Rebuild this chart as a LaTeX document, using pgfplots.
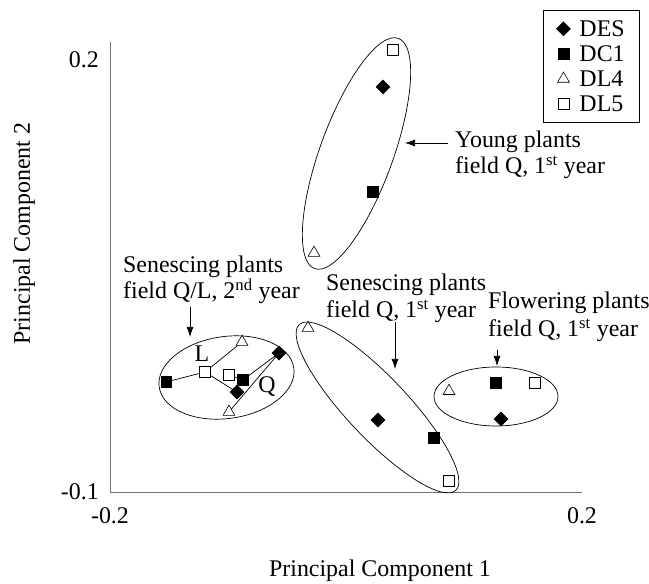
\documentclass[border=0pt]{standalone}
\usepackage{fontspec}
\setmainfont{Liberation Serif}
\usepackage{pgfplots}
\pgfplotsset{compat=1.18}
\usetikzlibrary{shapes.geometric,arrows.meta}
\begin{document}
\fontsize{24}{27}\selectfont
\begin{tikzpicture}
\path[use as bounding box] (0,0) rectangle (649bp,584bp);
\begin{axis}[
  at={(110bp,92bp)}, anchor=south west,
  scale only axis, width=472bp, height=450bp,
  xmin=-0.2, xmax=0.2, ymin=-0.1, ymax=0.2125,
  axis x line=bottom, axis y line=left,
  axis line style={-, black!55, line width=0.8bp},
  xtick={-0.2,0.2}, xticklabels={-0.2,0.2},
  ytick={-0.1,0.2}, yticklabels={-0.1,0.2},
  major tick length=0pt, tick style={draw=none},
  xticklabel style={yshift=-7bp},
  yticklabel style={xshift=-3bp},
  clip=false,
  legend cell align=left,
  legend style={at={(1.1229,1.0711)}, anchor=north east, draw=black, line width=0.7bp,
    inner xsep=13bp, inner ysep=8bp, row sep=4bp,
    /tikz/every odd column/.append style={column sep=7bp},
    nodes={inner sep=2bp, text height=16bp, text depth=1bp}},
]
% connecting lines (2nd year group)
\addplot[black, line width=0.7bp, forget plot] coordinates {(-0.1525,-0.0236) (-0.1195,-0.0167) (-0.0881,0.0042)};
\addplot[black, line width=0.7bp, forget plot] coordinates {(-0.1195,-0.0167) (-0.0924,-0.0306)};
\addplot[black, line width=0.7bp, forget plot] coordinates {(-0.0992,-0.0187) (-0.0873,-0.0222) (-0.0568,-0.0035) (-0.0992,-0.0444)};
% series
\addplot[only marks, mark=diamond*, mark size=7bp, mark options={xscale=1.333, fill=black, draw=black, line width=0.5bp}]
  coordinates {(0.0314,0.1813) (0.0271,-0.0500) (0.1314,-0.0493) (-0.0924,-0.0306) (-0.0568,-0.0035)};
\addlegendentry{DES}
\addplot[only marks, mark=square*, mark size=5.3bp, mark options={fill=black, draw=black, line width=0.5bp}]
  coordinates {(0.0229,0.1083) (0.0746,-0.0625) (0.1271,-0.0243) (-0.1525,-0.0236) (-0.0873,-0.0222)};
\addlegendentry{DC1}
\addplot[only marks, mark=triangle*, mark size=6.8bp, mark options={fill=white, draw=black, line width=0.6bp}]
  coordinates {(-0.0271,0.0660) (-0.0322,0.0139) (0.0873,-0.0299) (-0.0881,0.0042) (-0.0992,-0.0444)};
\addlegendentry{DL4}
\addplot[only marks, mark=square*, mark size=5.5bp, mark options={fill=white, draw=black, line width=0.6bp}]
  coordinates {(0.0398,0.2069) (0.0873,-0.0924) (0.1602,-0.0243) (-0.1195,-0.0167) (-0.0992,-0.0187)};
\addlegendentry{DL5}
\end{axis}
% axis titles
\node[anchor=base] at (380bp,8bp) {Principal Component 1};
\node[rotate=90] at (24bp,350.5bp) {Principal Component 2};
% ellipses
\node[draw, ellipse, line width=0.7bp, inner sep=0pt, minimum width=245bp, minimum height=73bp, rotate=70] at (356.5bp,430.5bp) {};
\node[draw, ellipse, line width=0.7bp, inner sep=0pt, minimum width=228bp, minimum height=61bp, rotate=-46.6] at (377.5bp,176.5bp) {};
\node[draw, ellipse, line width=0.7bp, inner sep=0pt, minimum width=124bp, minimum height=59bp] at (496bp,187.5bp) {};
\node[draw, ellipse, line width=0.7bp, inner sep=0pt, minimum width=136bp, minimum height=82bp, rotate=8] at (226.5bp,206.5bp) {};
% group labels
\node[anchor=base west, inner sep=0pt] at (455bp,436bp) {Young plants};
\node[anchor=base west, inner sep=0pt] at (455bp,410bp) {field Q, 1\textsuperscript{st} year};
\node[anchor=base west, inner sep=0pt] at (123bp,311bp) {Senescing plants};
\node[anchor=base west, inner sep=0pt] at (123bp,285bp) {field Q/L, 2\textsuperscript{nd} year};
\node[anchor=base west, inner sep=0pt] at (326bp,293bp) {Senescing plants};
\node[anchor=base west, inner sep=0pt] at (326bp,266bp) {field Q, 1\textsuperscript{st} year};
\node[anchor=base west, inner sep=0pt] at (488bp,275bp) {Flowering plants};
\node[anchor=base west, inner sep=0pt] at (488bp,247bp) {field Q, 1\textsuperscript{st} year};
\node at (202bp,230bp) {L};
\node at (267bp,197bp) {Q};
% arrows
\draw[-{Latex[length=10bp,width=7bp]}, line width=0.7bp] (448bp,441bp) -- (405bp,441bp);
\draw[-{Latex[length=10bp,width=7bp]}, line width=0.7bp] (190bp,277bp) -- (190bp,247bp);
\draw[-{Latex[length=10bp,width=7bp]}, line width=0.7bp] (395bp,262bp) -- (395bp,215bp);
\draw[-{Latex[length=10bp,width=7bp]}, line width=0.7bp] (497bp,234bp) -- (497bp,218bp);
\end{tikzpicture}
\end{document}
